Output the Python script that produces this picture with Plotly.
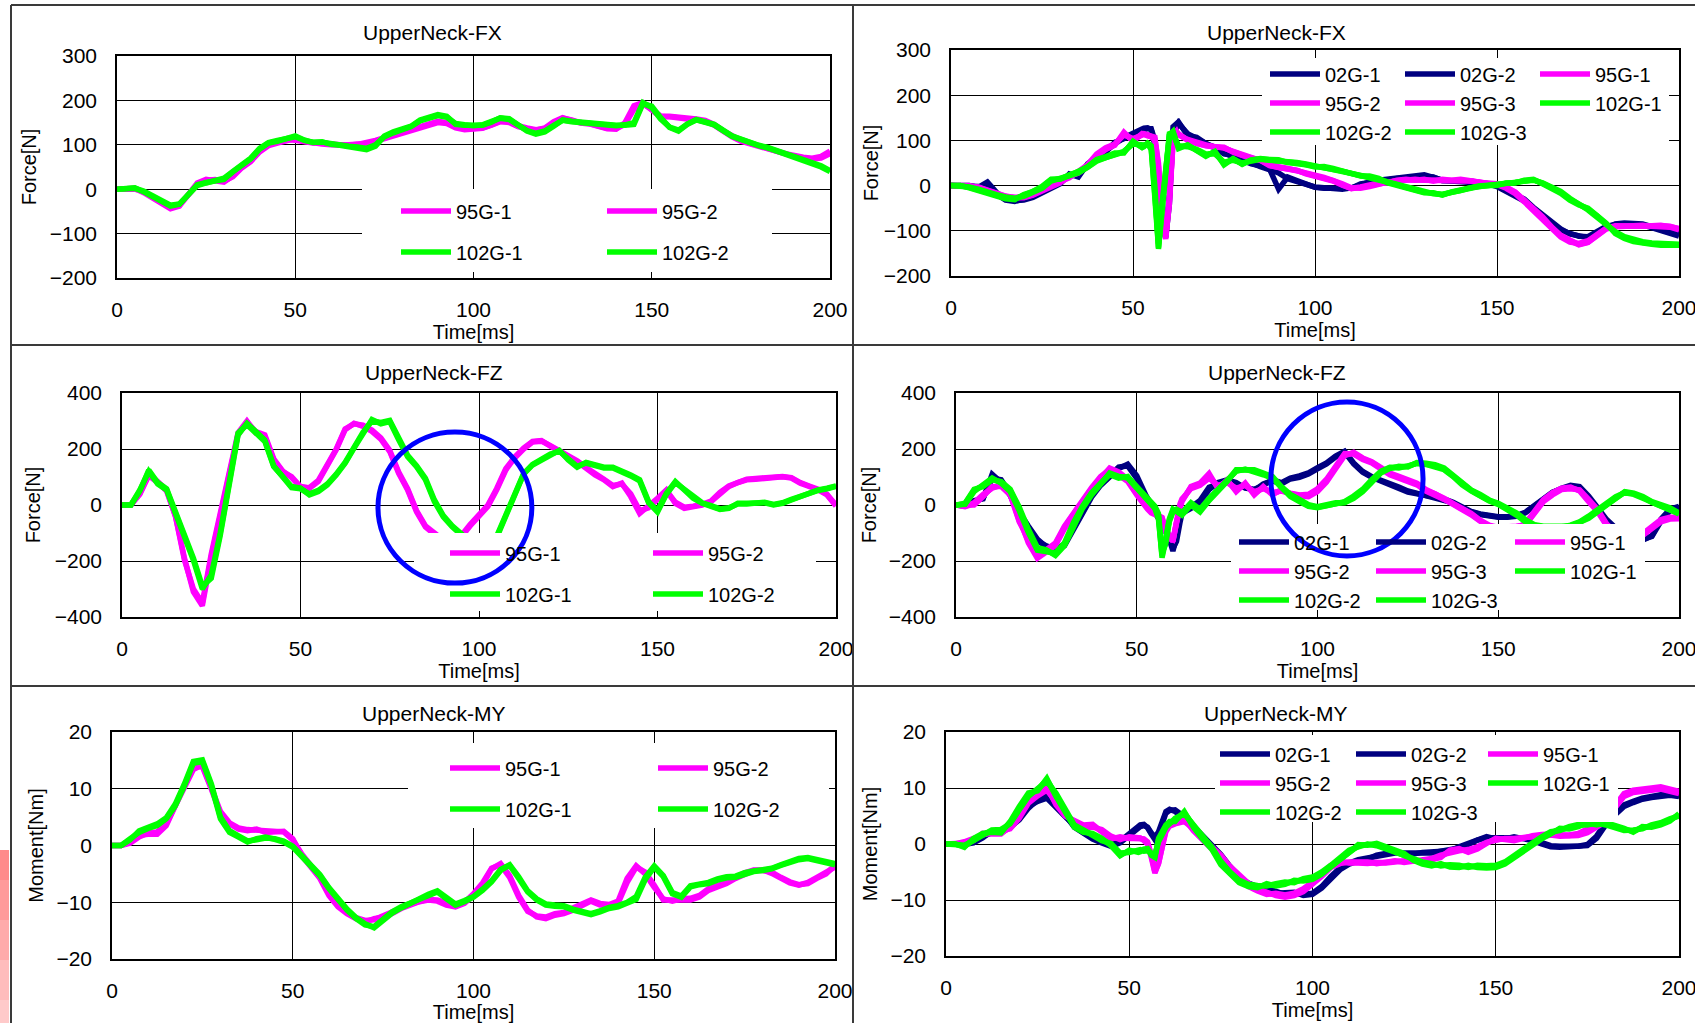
import plotly.graph_objects as go

FONT = "Liberation Sans"
NAVY, MAGENTA, GREEN = "#000080", "#ff00ff", "#00ff00"
W, H = 1695, 1023

# sampling instants [ms]
t_left = [i * 2.5 for i in range(81)]
t_right = ([i * 2.5 for i in range(22)] + [float(v) for v in range(53, 63)]
           + [62.5 + i * 2.5 for i in range(56)])

# ---------------- UpperNeck-FX  (95G / 102G) [N] ----------------
fx_l_95g1 = [0, 0, 2, -8, -20, -32, -44, -38, -12, 14, 22, 20, 16, 30, 50, 64, 86, 100, 106, 112,
             110, 106, 104, 104, 101, 100, 100, 100, 103, 108, 114, 122, 128, 133, 140, 146, 150, 148, 138, 134,
             135, 137, 144, 152, 152, 143, 138, 134, 137, 150, 160, 156, 150, 148, 142, 137, 135, 150, 188, 195,
             178, 163, 164, 163, 160, 158, 155, 146, 132, 120, 110, 104, 99, 93, 86, 80, 75, 72, 70, 74, 86]
fx_l_95g2 = [0, 0, 0, -6, -18, -30, -40, -36, -14, 10, 20, 22, 18, 28, 48, 62, 84, 98, 104, 110,
             114, 108, 104, 102, 100, 98, 99, 101, 104, 110, 116, 124, 130, 135, 142, 148, 153, 150, 140, 136,
             136, 138, 145, 153, 150, 141, 136, 133, 138, 152, 161, 155, 149, 147, 140, 136, 136, 146, 180, 192,
             180, 165, 163, 162, 158, 156, 153, 144, 130, 118, 108, 102, 98, 92, 85, 79, 74, 70, 68, 70, 80]
fx_l_102g1 = [0, 0, 3, -6, -17, -28, -38, -34, -10, 10, 15, 20, 22, 39, 55, 68, 90, 104, 108, 113,
              120, 111, 105, 107, 101, 99, 96, 94, 89, 97, 120, 129, 135, 142, 156, 163, 168, 164, 146, 144,
              144, 144, 151, 161, 159, 146, 131, 124, 129, 142, 156, 153, 151, 151, 147, 144, 144, 144, 146, 192,
              187, 161, 139, 131, 146, 157, 151, 146, 133, 120, 113, 105, 99, 94, 87, 79, 73, 68, 61, 53, 42]
fx_l_102g2 = [0, 0, 2, -4, -15, -26, -36, -33, -12, 8, 14, 18, 25, 40, 56, 70, 92, 105, 110, 115,
              118, 110, 106, 106, 102, 100, 97, 95, 92, 100, 118, 127, 134, 141, 154, 161, 166, 162, 148, 145,
              143, 145, 152, 160, 157, 145, 132, 126, 131, 144, 155, 152, 150, 150, 146, 143, 143, 145, 150, 195,
              184, 158, 140, 133, 147, 156, 150, 145, 132, 119, 112, 104, 98, 93, 86, 78, 72, 66, 59, 50, 40]

# ---------------- UpperNeck-FX  (02G / 95G / 102G) [N] ----------------
fx_r_02g1 = [0, 0, 0, -4, 8, -15, -30, -33, -32, -26, -15, -4, 4, 26, 19, 48, 63, 74, 96, 104, 111, 122,
             124, 126, 126, 100, 11, -78, -107, -19, 130, 140,
             141, 111, 107, 93, 85, 70, 67, 56, 48, 44, 37, -8, 19, 11, 4, -4, -6, -7, -7, -6,
             4, 7, 11, 15, 16, 17, 20, 20, 19, 11, 11, 11, 10, 7, 5, 0, -11, -19, -30, -48,
             -63, -81, -96, -107, -111, -115, -104, -93, -85, -83, -84, -85, -91, -96, -102, -107]
fx_r_02g2 = [0, 0, 0, -2, -6, -18, -32, -35, -30, -24, -12, -2, 6, 22, 24, 44, 60, 78, 92, 106, 114, 125,
             127, 128, 124, 90, 0, -90, -115, -40, 110, 135,
             138, 115, 104, 96, 82, 72, 64, 58, 50, 42, 35, 28, 15, 8, 2, -3, -5, -6, -8, -5,
             2, 8, 12, 14, 18, 20, 22, 24, 18, 12, 10, 9, 8, 6, 4, -2, -12, -22, -34, -50,
             -66, -84, -98, -106, -112, -113, -100, -90, -86, -84, -85, -87, -93, -99, -105, -112]
fx_r_95g1 = [0, 0, 0, -4, -11, -19, -24, -26, -26, -20, -10, 0, 7, 19, 30, 44, 67, 81, 89, 118, 98, 115,
             114, 112, 111, 107, 41, -78, -118, -33, 100, 118,
             115, 100, 93, 89, 85, 85, 74, 67, 61, 56, 44, 41, 37, 33, 27, 22, 17, 11, 2, -7,
             -4, 0, 5, 7, 11, 13, 13, 13, 11, 13, 11, 13, 11, 7, 5, 4, -4, -15, -33, -52,
             -70, -93, -111, -122, -131, -126, -111, -96, -90, -89, -89, -89, -89, -89, -90, -96]
fx_r_95g2 = [0, 0, -2, -6, -13, -20, -25, -28, -24, -18, -8, 2, 9, 17, 32, 46, 70, 84, 92, 112, 104, 112,
             113, 110, 108, 100, 30, -85, -112, -20, 108, 120,
             112, 102, 95, 90, 86, 83, 76, 69, 62, 54, 46, 42, 38, 32, 28, 23, 18, 12, 4, -5,
             -6, -2, 4, 8, 10, 12, 14, 12, 12, 12, 12, 12, 10, 8, 6, 2, -6, -18, -36, -55,
             -74, -96, -114, -125, -128, -122, -108, -94, -91, -90, -88, -88, -90, -91, -92, -98]
fx_r_95g3 = [0, 0, 0, -3, -10, -18, -23, -27, -27, -21, -11, -1, 6, 20, 28, 42, 65, 80, 90, 115, 100, 113,
             115, 113, 110, 104, 50, -70, -110, -40, 95, 115,
             114, 101, 94, 88, 86, 84, 75, 66, 60, 57, 45, 40, 36, 34, 26, 21, 16, 10, 1, -6,
             -3, 1, 6, 6, 12, 14, 12, 14, 10, 14, 12, 14, 12, 8, 4, 3, -3, -14, -32, -50,
             -69, -92, -110, -120, -130, -125, -110, -95, -89, -88, -90, -90, -88, -88, -91, -95]
fx_r_102g1 = [0, 0, -4, -10, -17, -22, -27, -30, -22, -15, -4, 13, 15, 22, 30, 41, 56, 63, 70, 74, 96, 85,
              88, 93, 85, -11, -137, -48, 41, 115, 118, 95,
              85, 89, 78, 67, 74, 48, 59, 48, 56, 59, 57, 56, 52, 50, 47, 42, 41, 37, 32, 27,
              22, 20, 15, 7, 2, -4, -10, -15, -17, -20, -15, -10, -4, -2, 0, 1, 5, 7, 11, 13,
              5, -4, -15, -30, -41, -52, -67, -85, -104, -115, -122, -126, -128, -130, -131, -131]
fx_r_102g2 = [0, 0, -3, -8, -15, -20, -25, -28, -24, -16, -6, 10, 16, 20, 28, 40, 54, 62, 68, 76, 92, 88,
              90, 92, 80, -20, -128, -40, 50, 110, 112, 92,
              88, 86, 80, 70, 70, 52, 56, 50, 54, 58, 56, 55, 53, 51, 48, 44, 40, 36, 30, 26,
              23, 19, 14, 8, 3, -3, -9, -14, -18, -19, -16, -11, -5, -3, -1, 2, 4, 8, 10, 12,
              6, -2, -13, -28, -40, -54, -70, -88, -102, -113, -120, -124, -127, -128, -130, -130]
fx_r_102g3 = [0, 0, -5, -11, -18, -24, -29, -31, -20, -13, -2, 14, 14, 24, 31, 42, 58, 64, 72, 72, 98, 84,
              86, 94, 88, 0, -140, -55, 35, 112, 120, 98,
              82, 90, 76, 65, 76, 46, 60, 47, 57, 60, 58, 57, 51, 49, 46, 41, 42, 38, 33, 28,
              21, 21, 16, 6, 1, -5, -11, -16, -16, -21, -14, -9, -3, -1, 1, 0, 6, 6, 12, 14,
              4, -6, -17, -32, -43, -50, -65, -83, -106, -117, -124, -128, -130, -132, -132, -132]

# ---------------- UpperNeck-FZ  (95G / 102G) [N] ----------------
fz_l_95g1 = [0, 0, 42, 110, 84, 54, -42, -197, -300, -350, -175, -30, 101, 257, 300, 257, 245, 161, 119, 101,
             66, 60, 84, 137, 197, 269, 292, 281, 263, 235, 191, 113, 54, -24, -78, -105, -130, -140, -110, -70,
             -36, 0, 60, 130, 171, 203, 227, 230, 210, 191, 176, 155, 131, 107, 90, 66, 78, 30, -30, -6,
             24, 54, 6, -12, -6, 0, 12, 42, 66, 80, 90, 92, 96, 99, 101, 96, 78, 66, 54, 36, -4]
fz_l_95g2 = [0, 0, 38, 105, 80, 50, -40, -190, -310, -360, -185, -40, 95, 250, 295, 262, 250, 165, 122, 98,
             64, 62, 88, 140, 200, 272, 290, 285, 268, 240, 195, 118, 58, -20, -75, -100, -125, -135, -115, -75,
             -40, -5, 55, 125, 168, 200, 225, 228, 212, 193, 178, 158, 134, 110, 92, 70, 75, 40, -20, -10,
             20, 50, 10, -8, -4, 2, 14, 45, 68, 82, 92, 95, 98, 101, 102, 98, 80, 68, 56, 38, 0]
fz_l_102g1 = [0, 0, 54, 120, 75, 54, -30, -113, -197, -300, -250, -101, 66, 257, 287, 257, 227, 137, 101, 66,
              60, 36, 48, 72, 107, 149, 203, 257, 305, 290, 298, 233, 173, 137, 90, 12, -42, -78, -105, -135,
              -150, -140, -115, -40, 38, 110, 143, 161, 179, 195, 161, 135, 152, 143, 135, 135, 123, 107, 90, 12,
              -20, 42, 84, 54, 24, 6, -4, -16, -12, 6, 6, 8, 8, 0, 6, 18, 30, 42, 54, 60, 68]
fz_l_102g2 = [0, 0, 50, 125, 80, 58, -25, -108, -190, -290, -262, -110, 60, 250, 292, 262, 232, 140, 98, 62,
              58, 40, 52, 75, 110, 152, 206, 260, 300, 295, 302, 238, 178, 140, 95, 18, -38, -74, -100, -130,
              -145, -135, -110, -35, 42, 112, 145, 163, 182, 192, 165, 138, 150, 140, 132, 132, 120, 104, 86, 8,
              -25, 38, 80, 56, 26, 8, -2, -14, -10, 4, 4, 6, 10, 2, 8, 20, 32, 44, 52, 58, 66]

# ---------------- UpperNeck-FZ  (02G / 95G / 102G) [N] ----------------
fz_r_02g1 = [0, 0, 16, 22, 110, 81, 34, -32, -80, -128, -146, -158, -140, -86, -26, 34, 75, 105, 135, 140, 95, 28,
             18, -3, -26, -48, -70, -95, -122, -164, -116, -40,
             -20, -8, 16, 63, 75, 87, 75, 63, 52, 75, 87, 75, 93, 99, 111, 129, 147, 171, 189, 147,
             117, 99, 87, 73, 61, 46, 40, 34, 25, 22, 10, -8, -23, -32, -38, -42, -42, -38, -26, -2,
             22, 46, 58, 66, 63, 28, -14, -56, -85, -105, -118, -125, -110, -50, -15, -5]
fz_r_02g2 = [0, -4, 10, 25, 95, 90, 40, -25, -75, -122, -150, -162, -145, -92, -30, 28, 70, 100, 130, 146, 105, 35,
             22, 0, -20, -44, -66, -92, -118, -155, -130, -60,
             -30, -12, 10, 55, 80, 90, 80, 60, 56, 70, 90, 80, 96, 104, 115, 133, 150, 175, 192, 150,
             120, 101, 90, 76, 64, 50, 42, 36, 28, 20, 8, -10, -25, -34, -40, -44, -44, -40, -28, -5,
             20, 44, 60, 70, 66, 32, -10, -52, -82, -100, -115, -122, -112, -58, -20, -8]
fz_r_95g1 = [0, -6, 4, 34, 63, 69, 40, -56, -128, -180, -164, -140, -80, -32, 16, 58, 99, 129, 111, 87, 40, -8,
             -12, -25, -32, -38, -44, -90, -116, -128, -56, 0,
             16, 63, 75, 105, 63, 87, 52, 75, 40, 63, 40, 52, 40, 34, 34, 52, 87, 135, 180, 185,
             165, 153, 133, 111, 99, 87, 75, 52, 40, 22, 4, -14, -32, -56, -75, -82, -82, -78, -70, -26,
             16, 40, 58, 61, 52, 16, -20, -71, -100, -112, -115, -105, -80, -56, -47, -47]
fz_r_95g2 = [0, -4, 8, 38, 60, 72, 45, -50, -135, -190, -170, -145, -85, -38, 10, 52, 95, 132, 118, 92, 45, 0,
             -5, -20, -30, -40, -50, -95, -120, -125, -50, 5,
             22, 58, 70, 95, 70, 80, 60, 70, 48, 58, 45, 50, 42, 36, 38, 58, 92, 140, 184, 182,
             162, 150, 130, 108, 96, 84, 72, 50, 36, 20, 2, -16, -35, -58, -78, -85, -84, -80, -66, -20,
             20, 44, 60, 64, 50, 12, -24, -74, -104, -116, -118, -102, -76, -52, -44, -45]
fz_r_95g3 = [0, -2, 0, 30, 66, 66, 36, -60, -122, -175, -160, -136, -76, -28, 20, 62, 102, 126, 106, 84, 36, -12,
             -15, -28, -35, -42, -46, -85, -110, -130, -62, -5,
             12, 66, 78, 112, 58, 90, 48, 78, 36, 66, 36, 55, 38, 32, 30, 48, 82, 130, 176, 188,
             168, 155, 136, 114, 102, 90, 78, 55, 42, 24, 6, -12, -30, -54, -72, -80, -80, -76, -72, -30,
             12, 36, 55, 58, 54, 20, -16, -68, -96, -110, -112, -108, -84, -60, -50, -49]
fz_r_102g1 = [0, 4, 52, 69, 93, 81, 52, -14, -92, -158, -164, -176, -140, -68, -8, 40, 75, 111, 99, 99, 63, 28,
              22, 10, -8, -40, -188, -128, -56, -20, -20, -28,
              -32, 4, -20, 20, 52, 87, 123, 126, 123, 111, 99, 63, 34, 16, -2, -8, -2, 6, 10, 28,
              52, 87, 117, 133, 135, 138, 150, 147, 141, 129, 105, 75, 52, 34, 16, 4, -14, -32, -56, -72,
              -78, -80, -78, -74, -62, -44, -20, 4, 28, 46, 40, 28, 10, -2, -14, -30]
fz_r_102g2 = [0, 2, 48, 72, 96, 78, 48, -20, -98, -162, -168, -172, -135, -62, -4, 44, 78, 108, 96, 102, 66, 30,
              25, 14, -4, -30, -170, -140, -60, -25, -15, -22,
              -28, 8, -15, 24, 56, 90, 120, 128, 120, 108, 96, 60, 30, 12, -5, -10, -4, 4, 12, 32,
              56, 90, 120, 135, 132, 140, 148, 145, 138, 126, 102, 72, 50, 30, 14, 2, -16, -36, -60, -74,
              -80, -82, -80, -72, -60, -40, -16, 8, 30, 44, 38, 24, 8, -4, -18, -32]
fz_r_102g3 = [0, 6, 56, 66, 90, 84, 56, -8, -86, -152, -160, -180, -145, -74, -12, 36, 72, 114, 102, 96, 60, 26,
              20, 6, -12, -50, -180, -120, -50, -15, -25, -34,
              -36, 0, -25, 16, 48, 84, 126, 124, 126, 114, 102, 66, 38, 20, 1, -6, 0, 8, 8, 24,
              48, 84, 114, 130, 138, 136, 152, 149, 144, 132, 108, 78, 54, 38, 18, 6, -12, -28, -52, -70,
              -76, -78, -76, -76, -64, -48, -24, 0, 26, 48, 42, 30, 12, 0, -10, -28]

# ---------------- UpperNeck-MY  (95G / 102G) [Nm] ----------------
my_l_95g1 = [0, 0, 0.6, 1.8, 2.0, 2.0, 3.5, 7.3, 10.5, 13.8, 13.9, 9.9, 5.6, 3.8, 2.9, 2.6, 2.9, 2.3, 2.3, 2.5,
             1.2, -1.8, -3.8, -5.8, -8.8, -10.8, -12.0, -12.9, -13.5, -12.9, -12.6, -12.0, -11.1, -10.5, -9.9, -9.6, -9.8, -10.5, -10.8, -10.2,
             -8.8, -7.0, -4.1, -3.2, -5.3, -8.8, -11.4, -12.6, -12.9, -12.3, -12.0, -11.4, -10.5, -9.8, -10.5, -10.5, -10.2, -6.5, -3.8, -4.7,
             -7.0, -9.6, -9.6, -9.6, -9.6, -9.1, -7.9, -7.3, -6.7, -5.8, -5.0, -4.4, -4.4, -4.7, -5.6, -6.4, -6.9, -6.7, -5.8, -5.0, -3.5]
my_l_95g2 = [0, 0, 0.4, 1.5, 2.2, 2.4, 3.8, 7.0, 10.2, 13.4, 14.2, 10.4, 6.0, 4.0, 3.1, 2.8, 2.7, 2.5, 2.6, 2.4,
             1.0, -1.5, -3.5, -5.6, -8.5, -10.5, -11.8, -12.7, -13.2, -13.1, -12.4, -11.8, -11.0, -10.3, -9.8, -9.5, -9.6, -10.2, -10.6, -10.0,
             -8.5, -6.6, -4.0, -3.4, -5.6, -9.1, -11.6, -12.4, -12.6, -12.0, -11.8, -11.0, -10.2, -9.6, -10.2, -10.4, -9.8, -5.8, -3.6, -5.0,
             -7.4, -9.4, -9.8, -9.4, -9.3, -8.8, -7.6, -7.0, -6.5, -5.6, -4.8, -4.3, -4.3, -4.9, -5.8, -6.6, -7.0, -6.5, -5.6, -4.6, -3.8]
my_l_102g1 = [0, 0, 1.2, 2.3, 3.0, 3.5, 4.7, 7.0, 10.5, 14.5, 14.8, 10.5, 4.7, 2.3, 1.5, 0.6, 1.2, 1.5, 1.1, 0.6,
              -0.3, -2.0, -3.5, -5.3, -7.6, -9.6, -11.4, -12.9, -14.0, -14.3, -12.9, -11.7, -10.8, -10.1, -9.4, -8.8, -8.2, -9.4, -10.5, -9.9,
              -9.1, -7.9, -6.4, -4.4, -3.5, -5.8, -8.2, -9.6, -10.5, -10.7, -10.8, -11.4, -11.7, -12.2, -11.7, -11.1, -10.8, -10.2, -9.5, -6.0,
              -3.8, -5.5, -8.5, -9.1, -7.3, -6.9, -6.7, -6.1, -5.7, -5.6, -5.0, -4.6, -4.4, -4.1, -3.5, -2.9, -2.5, -2.3, -2.6, -2.9, -3.4]
my_l_102g2 = [0, 0, 1.0, 2.6, 3.2, 3.8, 4.9, 7.3, 10.8, 14.8, 15.1, 10.8, 5.0, 2.6, 1.7, 0.8, 1.0, 1.3, 1.2, 0.8,
              -0.1, -1.8, -3.3, -5.1, -7.4, -9.4, -11.2, -12.7, -13.8, -14.5, -13.2, -11.9, -11.0, -10.2, -9.2, -8.6, -8.0, -9.2, -10.3, -9.7,
              -9.0, -7.7, -6.2, -4.2, -3.4, -5.5, -8.0, -9.4, -10.3, -10.5, -10.6, -11.2, -11.5, -12.0, -11.5, -10.9, -10.6, -10.0, -9.0, -5.6,
              -3.6, -5.3, -8.3, -8.9, -7.1, -6.8, -6.5, -5.9, -5.5, -5.4, -4.8, -4.5, -4.3, -4.0, -3.4, -2.8, -2.3, -2.1, -2.4, -2.8, -3.2]

# ---------------- UpperNeck-MY  (02G / 95G / 102G) [Nm] ----------------
my_r_02g1 = [0, 0, -0.1, 0.2, 1.1, 2.3, 2.1, 3.2, 4.6, 6.7, 7.6, 8.2, 6.7, 4.9, 3.3, 2.0, 1.1, 0.5, -0.1, 0.5, 1.7, 3.2,
             3.4, 3.5, 2.9, 1.8, 0.8, 1.8, 3.5, 5.5, 6.0, 6.1,
             6.1, 4.9, 3.2, 1.4, -0.1, -1.9, -4.0, -5.8, -7.0, -7.6, -7.9, -8.5, -9.0, -8.9, -9.0, -8.8, -7.6, -5.8, -4.3, -3.4,
             -2.8, -2.5, -2.2, -1.9, -1.6, -1.6, -1.6, -1.7, -1.6, -1.3, -1.0, -0.7, -0.1, 0.7, 1.1, 1.1, 1.1, 1.1, 1.1, 0.8,
             0.3, -0.3, -0.4, -0.4, -0.4, -0.1, 1.4, 3.8, 5.5, 7.0, 7.6, 8.2, 8.5, 8.8, 8.8, 8.6]
my_r_02g2 = [0, 0, 0.1, 0.5, 1.4, 2.0, 2.4, 3.0, 4.3, 6.4, 7.9, 8.6, 7.0, 5.2, 3.0, 1.8, 0.9, 0.2, -0.4, 0.2, 1.4, 2.9,
             3.1, 3.3, 3.0, 2.0, 1.2, 2.2, 3.8, 5.8, 6.2, 6.0,
             5.8, 4.6, 3.0, 1.2, -0.4, -2.2, -4.3, -6.1, -7.3, -7.8, -8.2, -8.8, -8.7, -8.6, -9.2, -9.0, -7.9, -6.1, -4.6, -3.6,
             -3.0, -2.7, -2.0, -1.7, -1.4, -1.8, -1.8, -1.5, -1.4, -1.5, -1.2, -0.5, 0.1, 0.9, 1.3, 0.9, 0.9, 1.3, 1.0, 0.6,
             0.0, -0.5, -0.6, -0.5, -0.5, -0.3, 1.0, 3.4, 5.2, 6.7, 7.4, 8.0, 8.3, 8.6, 8.7, 8.5]
my_r_95g1 = [0, 0, 0.2, 0.8, 1.7, 2.0, 2.0, 2.9, 4.9, 7.6, 8.8, 10.0, 7.3, 5.2, 4.0, 3.2, 3.3, 2.3, 1.1, 1.1, 1.1, 1.1,
             1.0, 0.8, 0.2, -2.0, -5.0, -3.5, -0.4, 2.6, 3.4, 3.7,
             3.8, 4.3, 2.6, 0.8, -0.7, -2.2, -4.3, -5.8, -7.3, -8.2, -8.8, -9.0, -9.3, -9.0, -8.2, -7.0, -5.5, -4.0, -3.3, -3.3,
             -3.3, -3.4, -3.4, -3.3, -3.1, -3.1, -2.9, -3.1, -2.8, -2.2, -1.3, -1.0, -1.3, -0.7, 0.2, 0.8, 0.9, 0.8, 1.1, 1.4,
             1.5, 1.7, 1.5, 1.5, 1.7, 2.3, 3.2, 4.3, 6.7, 8.8, 9.4, 9.7, 9.8, 10.0, 9.7, 9.2]
my_r_95g2 = [0, 0, 0.4, 1.0, 1.5, 2.2, 2.3, 2.7, 4.6, 7.3, 8.6, 9.6, 7.6, 5.5, 3.8, 3.0, 3.0, 2.6, 1.4, 0.8, 1.3, 1.2,
             1.1, 0.6, 0.0, -2.4, -5.2, -3.4, -0.8, 2.2, 3.2, 3.6,
             3.6, 4.0, 2.8, 1.0, -0.5, -2.0, -4.0, -5.6, -7.0, -8.0, -8.6, -9.2, -9.5, -9.2, -8.5, -7.3, -5.8, -4.2, -3.5, -3.2,
             -3.2, -3.2, -3.5, -3.2, -3.0, -3.3, -3.0, -2.9, -2.6, -2.0, -1.5, -1.2, -1.0, -0.5, 0.3, 0.6, 1.0, 1.0, 1.2, 1.3,
             1.3, 1.6, 1.4, 1.4, 1.5, 2.0, 2.9, 4.0, 6.4, 8.5, 9.2, 9.5, 9.6, 9.8, 9.5, 9.0]
my_r_95g3 = [0, 0, 0.0, 0.6, 1.9, 1.8, 1.8, 3.1, 5.1, 7.9, 9.1, 10.3, 7.0, 5.0, 4.2, 3.4, 3.5, 2.1, 0.9, 1.3, 1.0, 1.0,
             0.9, 0.9, 0.4, -1.6, -4.2, -2.6, 0.0, 2.8, 3.6, 3.8,
             4.0, 4.5, 2.4, 0.6, -0.9, -2.4, -4.5, -6.0, -7.6, -8.4, -9.0, -8.8, -9.1, -8.8, -8.0, -6.8, -5.2, -3.8, -3.1, -3.4,
             -3.4, -3.5, -3.3, -3.4, -3.2, -2.9, -2.8, -3.2, -2.9, -2.4, -1.1, -0.8, -1.5, -0.9, 0.1, 1.0, 0.8, 0.6, 1.0, 1.5,
             1.7, 1.8, 1.6, 1.6, 1.9, 2.6, 3.5, 4.6, 7.0, 9.0, 9.6, 9.9, 10.0, 10.2, 9.9, 9.4]
my_r_102g1 = [0, 0, -0.4, 0.8, 1.7, 2.3, 2.3, 3.8, 6.4, 8.8, 9.7, 11.5, 8.8, 5.8, 3.2, 2.3, 1.7, 0.8, -0.1, -1.9, -1.3, -1.3,
              -1.2, -1.1, -1.0, -1.8, -2.2, 0.8, 2.0, 3.2, 3.8, 4.2,
              4.3, 5.6, 3.2, 1.1, -0.7, -3.4, -5.2, -6.7, -7.4, -7.6, -7.3, -7.3, -7.0, -6.7, -6.4, -6.1, -5.2, -4.0, -2.8, -1.3,
              -0.3, -0.1, -0.1, -0.7, -1.3, -1.9, -2.7, -3.4, -3.7, -3.7, -3.9, -4.0, -4.0, -4.0, -4.1, -4.0, -3.4, -2.2, -1.0, 0.2,
              1.1, 2.0, 2.6, 2.9, 3.3, 3.6, 3.6, 3.6, 3.2, 2.6, 2.3, 2.9, 3.2, 3.6, 4.3, 5.2]
my_r_102g2 = [0, 0, -0.2, 0.6, 1.5, 2.5, 2.6, 3.6, 6.1, 8.5, 9.9, 11.2, 9.1, 6.1, 3.4, 2.5, 1.5, 0.6, 0.1, -1.6, -1.5, -1.1,
              -1.0, -1.3, -1.2, -1.6, -2.0, 0.4, 1.7, 3.0, 3.6, 4.4,
              4.6, 5.4, 3.4, 1.3, -0.5, -3.1, -5.0, -6.5, -7.2, -7.4, -7.5, -7.1, -6.8, -6.9, -6.2, -5.9, -5.0, -3.8, -2.6, -1.1,
              -0.5, 0.0, -0.3, -0.9, -1.5, -2.1, -2.5, -3.2, -3.5, -3.9, -3.7, -3.8, -4.2, -3.8, -3.9, -3.8, -3.2, -2.0, -0.8, 0.4,
              1.3, 2.2, 2.4, 3.1, 3.5, 3.4, 3.8, 3.4, 3.0, 2.4, 2.5, 2.7, 3.4, 3.8, 4.5, 5.0]
my_r_102g3 = [0, 0, -0.6, 1.0, 1.9, 2.1, 2.0, 4.0, 6.7, 9.1, 9.5, 11.7, 8.5, 5.5, 3.0, 2.1, 1.9, 1.0, -0.3, -2.1, -1.1, -1.5,
              -1.4, -0.9, -0.8, -2.0, -2.4, 1.0, 2.3, 3.4, 4.0, 4.0,
              4.0, 5.8, 3.0, 0.9, -0.9, -3.7, -5.4, -6.9, -7.6, -7.8, -7.1, -7.5, -7.2, -6.5, -6.6, -6.3, -5.4, -4.2, -3.0, -1.5,
              -0.1, -0.2, 0.1, -0.5, -1.1, -1.7, -2.9, -3.6, -3.9, -3.5, -4.1, -4.2, -3.8, -4.2, -4.3, -4.2, -3.6, -2.4, -1.2, 0.0,
              0.9, 1.8, 2.8, 2.7, 3.1, 3.8, 3.4, 3.8, 3.4, 2.8, 2.1, 3.1, 3.0, 3.4, 4.1, 5.4]


def left_series(a, b, c, d):
    # (label, values, colour, legend column)
    return [("95G-1", a, MAGENTA, 0), ("95G-2", b, MAGENTA, 1),
            ("102G-1", c, GREEN, 0), ("102G-2", d, GREEN, 1)]


def right_series(v):
    names = ["02G-1", "02G-2", "95G-1", "95G-2", "95G-3", "102G-1", "102G-2", "102G-3"]
    colours = [NAVY, NAVY, MAGENTA, MAGENTA, MAGENTA, GREEN, GREEN, GREEN]
    columns = [0, 1, 2, 0, 1, 2, 0, 1]
    return list(zip(names, v, colours, columns))


# pixel geometry of each chart (page pixels)
panels = [
    dict(title="UpperNeck-FX", tpos=(432, 33), px=(117, 830), py=(56, 278), yr=[-200, 300], dy=100,
         ytitle="Force[N]", ystand=8, t=t_left, gap=12,
         series=left_series(fx_l_95g1, fx_l_95g2, fx_l_102g1, fx_l_102g2),
         legends=[(396, 191.5), (602, 191.5)], cover=(362, 189, 772, 272)),
    dict(title="UpperNeck-FX", tpos=(1276, 33), px=(951, 1679), py=(50, 276), yr=[-200, 300], dy=100,
         ytitle="Force[N]", ystand=0, t=t_right, gap=0,
         series=right_series([fx_r_02g1, fx_r_02g2, fx_r_95g1, fx_r_95g2, fx_r_95g3,
                              fx_r_102g1, fx_r_102g2, fx_r_102g3]),
         legends=[(1265, 54.5), (1400, 54.5), (1535, 54.5)], cover=(1262, 58, 1669, 145)),
    dict(title="UpperNeck-FZ", tpos=(434, 372), px=(122, 836), py=(393, 617), yr=[-400, 400], dy=200,
         ytitle="Force[N]", ystand=9, t=t_left, gap=12,
         series=left_series(fz_l_95g1, fz_l_95g2, fz_l_102g1, fz_l_102g2),
         legends=[(445, 533.5), (648, 533.5)], cover=(414, 533, 816, 611)),
    dict(title="UpperNeck-FZ", tpos=(1277, 372), px=(956, 1679), py=(393, 617), yr=[-400, 400], dy=200,
         ytitle="Force[N]", ystand=7, t=t_right, gap=0,
         series=right_series([fz_r_02g1, fz_r_02g2, fz_r_95g1, fz_r_95g2, fz_r_95g3,
                              fz_r_102g1, fz_r_102g2, fz_r_102g3]),
         legends=[(1234, 522.5), (1371, 522.5), (1510, 522.5)], cover=(1231, 524, 1645, 610)),
    dict(title="UpperNeck-MY", tpos=(434, 713), px=(112, 835), py=(732, 959), yr=[-20, 20], dy=10,
         ytitle="Moment[Nm]", ystand=7, t=t_left, gap=12,
         series=left_series(my_l_95g1, my_l_95g2, my_l_102g1, my_l_102g2),
         legends=[(445, 748.5), (653, 748.5)], cover=(408, 743, 829, 828)),
    dict(title="UpperNeck-MY", tpos=(1276, 713), px=(946, 1679), py=(732, 956), yr=[-20, 20], dy=10,
         ytitle="Moment[Nm]", ystand=7, t=t_right, gap=0,
         series=right_series([my_r_02g1, my_r_02g2, my_r_95g1, my_r_95g2, my_r_95g3,
                              my_r_102g1, my_r_102g2, my_r_102g3]),
         legends=[(1215, 734.5), (1351, 734.5), (1483, 734.5)], cover=(1215, 735, 1618, 822)),
]

for p in panels:
    for _, vals, _, _ in p["series"]:
        assert len(vals) == len(p["t"]), (p["title"], len(vals), len(p["t"]))


def fx(x):
    return x / W


def fy(y):
    return 1 - y / H


fig = go.Figure()
layout = dict(width=W, height=H, autosize=False, margin=dict(l=0, r=0, t=0, b=0, pad=0),
              paper_bgcolor="white", plot_bgcolor="white",
              font=dict(family=FONT, size=20, color="black"))
annotations, shapes = [], []
legend_no = 0

tick_font = dict(family=FONT, size=21, color="black")
axis_common = dict(showline=True, mirror=True, linecolor="black", linewidth=1.5,
                   showgrid=True, gridcolor="black", gridwidth=1, zeroline=False,
                   ticks="", tickfont=tick_font, fixedrange=True, automargin=False,
                   ticklabeloverflow="allow")

for k, p in enumerate(panels, start=1):
    sx = "" if k == 1 else str(k)
    # one legend per legend column
    lids = []
    for (lx, ly) in p["legends"]:
        legend_no += 1
        lid = "legend" if legend_no == 1 else f"legend{legend_no}"
        lids.append(lid)
        layout[lid] = dict(x=fx(lx), y=fy(ly), xanchor="left", yanchor="top",
                           bgcolor="rgba(0,0,0,0)", borderwidth=0, orientation="v",
                           itemwidth=50, font=dict(family=FONT, size=20, color="black"),
                           traceorder="grouped" if p["gap"] else "normal",
                           tracegroupgap=p["gap"])
    for name, vals, colour, col in p["series"]:
        fig.add_trace(go.Scatter(
            x=p["t"], y=vals, mode="lines", name=name,
            line=dict(color=colour, width=5.5),
            xaxis="x" + sx, yaxis="y" + sx, legend=lids[col],
            legendgroup=f"{name}-{k}" if p["gap"] else None,
            hoverinfo="skip"))
    layout["xaxis" + sx] = dict(axis_common, domain=[fx(p["px"][0]), fx(p["px"][1])],
                                anchor="y" + sx, range=[0, 200], tick0=0, dtick=50,
                                ticklabelstandoff=12,
                                title=dict(text="Time[ms]", standoff=2,
                                           font=dict(family=FONT, size=20, color="black")))
    layout["yaxis" + sx] = dict(axis_common, domain=[fy(p["py"][1]), fy(p["py"][0])],
                                anchor="x" + sx, range=p["yr"], tick0=0, dtick=p["dy"],
                                ticklabelstandoff=14,
                                title=dict(text=p["ytitle"], standoff=p["ystand"],
                                           font=dict(family=FONT, size=20, color="black")))
    annotations.append(dict(text=p["title"], x=fx(p["tpos"][0]), y=fy(p["tpos"][1]),
                            xref="paper", yref="paper", xanchor="center", yanchor="middle",
                            showarrow=False, font=dict(family=FONT, size=21, color="black")))
    cx0, cy0, cx1, cy1 = p["cover"]
    shapes.append(dict(type="rect", xref="paper", yref="paper", layer="above",
                       x0=fx(cx0), x1=fx(cx1), y0=fy(cy1), y1=fy(cy0),
                       fillcolor="white", line=dict(width=0)))

# highlighted regions on the FZ charts
shapes.append(dict(type="circle", xref="x3", yref="y3", layer="above",
                   x0=71.7, x1=114.8, y0=-279, y1=261, line=dict(color="#0000ff", width=5)))
shapes.append(dict(type="circle", xref="x4", yref="y4", layer="above",
                   x0=87.1, x1=129.2, y0=-182, y1=368, line=dict(color="#0000ff", width=5)))

# chart-area frames
frame = dict(color="#3a3a3a", width=2)
for (x0, y0, x1, y1) in [(11, 5, 1695, 5), (11, 345, 1695, 345), (11, 686, 1695, 686),
                         (11, 5, 11, 1023), (853, 5, 853, 1023)]:
    shapes.append(dict(type="line", xref="paper", yref="paper", x0=fx(x0), x1=fx(x1),
                       y0=fy(y0), y1=fy(y1), line=frame))

# reddish strip along the lower left edge
for (y0, y1, c) in [(850, 880, "#ff8a8a"), (880, 920, "#ff9a9a"), (920, 960, "#ffabab"),
                    (960, 1000, "#ffbcbc"), (1000, 1023, "#ffcaca")]:
    shapes.append(dict(type="rect", xref="paper", yref="paper", x0=0, x1=fx(9),
                       y0=fy(y1), y1=fy(y0), fillcolor=c, line=dict(width=0), layer="below"))

layout["annotations"] = annotations
layout["shapes"] = shapes
fig.update_layout(**layout)

fig.write_html("out.html", post_script="document.body.style.margin='0px';")
